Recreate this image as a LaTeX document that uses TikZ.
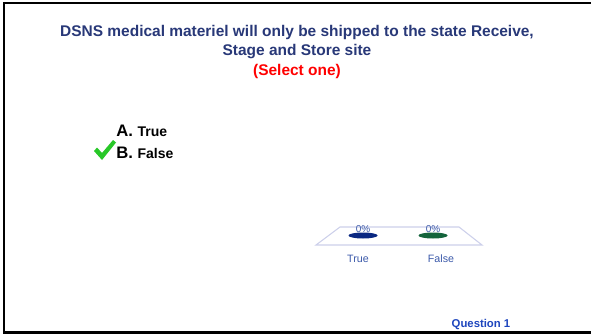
\documentclass[tikz,border=0pt]{standalone}
\usepackage{fontspec}
\setmainfont{Liberation Sans}
\usepackage{tikz}
\definecolor{titleblue}{RGB}{40,56,120}
\definecolor{chartblue}{RGB}{60,90,170}
\definecolor{qblue}{RGB}{30,70,190}
\definecolor{planeline}{RGB}{205,208,235}
\definecolor{barblue}{RGB}{10,40,130}
\definecolor{bargreen}{RGB}{20,100,60}
\definecolor{tickgreen}{RGB}{40,200,40}

\begin{document}
\begin{tikzpicture}[x=0.75pt,y=-0.75pt]
\useasboundingbox (0,0) rectangle (591,335);
\fill[white] (0,0) rectangle (591,335);
\draw[line width=2.2pt] (591,3) -- (4,3) -- (4,332.5) -- (591,332.5);

\draw (297,33) node[font=\bfseries\fontsize{11.6}{13}\selectfont,text=titleblue] (title1) {DSNS medical materiel will only be shipped to the state Receive,};
\draw (297,52) node[font=\bfseries\fontsize{11.6}{13}\selectfont,text=titleblue] (title2) {Stage and Store site};
\draw (297,72) node[font=\bfseries\fontsize{11.6}{13}\selectfont,text=red] (select) {(Select one)};

\draw (116,131) node[anchor=west,inner sep=0pt,font=\bfseries\fontsize{12.5}{14}\selectfont] (optA) {A.\hspace{3.5pt}{\fontsize{10.5}{12}\selectfont True}};
\draw (116,153) node[anchor=west,inner sep=0pt,font=\bfseries\fontsize{12.5}{14}\selectfont] (optB) {B.\hspace{3.5pt}{\fontsize{10.5}{12}\selectfont False}};
\fill[tickgreen] (94,151) -- (97,147.5) -- (102,153) -- (113,140) -- (116,142.5) -- (102,160) -- cycle;

\draw[planeline,line width=0.8pt] (340,227) -- (459,227) -- (482,245) -- (316,245) -- cycle;
\fill[barblue] (363,235.5) ellipse (14.5 and 3);
\fill[bargreen] (433,235.5) ellipse (14.5 and 3);
\draw (363,229) node[font=\fontsize{7.5}{9}\selectfont,text=chartblue] (pctT) {0\%};
\draw (433,229) node[font=\fontsize{7.5}{9}\selectfont,text=chartblue] (pctF) {0\%};
\draw (358,259) node[font=\fontsize{8}{9}\selectfont,text=chartblue] (labT) {True};
\draw (441,259) node[font=\fontsize{8}{9}\selectfont,text=chartblue] (labF) {False};

\draw (481,325) node[font=\bfseries\fontsize{8.5}{10}\selectfont,text=qblue] (qnum) {Question 1};
\end{tikzpicture}
\end{document}
